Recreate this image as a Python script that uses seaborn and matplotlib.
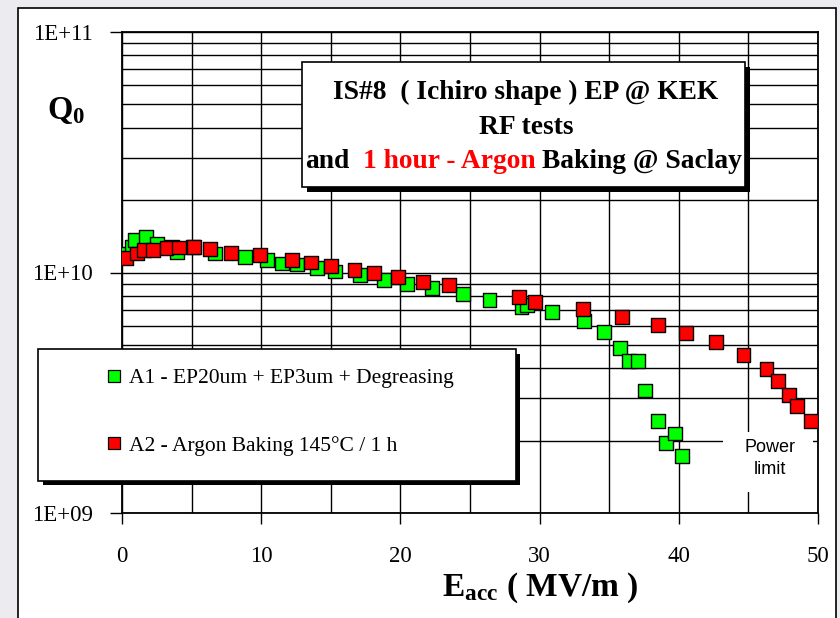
import numpy as np
import pandas as pd
import matplotlib
matplotlib.use('Agg')
import matplotlib.pyplot as plt
import seaborn as sns
from matplotlib.patches import Rectangle
from matplotlib.lines import Line2D
from matplotlib.ticker import LogLocator, MultipleLocator, FixedLocator, FixedFormatter, NullFormatter

# ---------------- data ----------------
eacc_a1 = [0.09, 0.70, 0.93, 1.70, 2.49, 3.57, 3.93, 5.12, 6.68, 8.84, 10.4, 11.5, 12.55,
           14.0, 15.3, 17.1, 18.8, 20.45, 22.25, 24.5, 26.4, 28.7, 29.1, 30.9, 33.2, 34.6,
           35.8, 36.4, 37.1, 37.6, 38.5, 39.1, 39.7, 40.25]
q0_a1 = [1.20e10, 1.28e10, 1.36e10, 1.41e10, 1.32e10, 1.28e10, 1.22e10, 1.28e10, 1.20e10,
         1.16e10, 1.13e10, 1.09e10, 1.08e10, 1.04e10, 1.01e10, 9.77e9, 9.31e9, 8.93e9,
         8.60e9, 8.15e9, 7.69e9, 7.21e9, 7.33e9, 6.84e9, 6.26e9, 5.64e9, 4.84e9, 4.29e9,
         4.29e9, 3.23e9, 2.42e9, 1.95e9, 2.14e9, 1.73e9]

eacc_a2 = [0.27, 1.06, 1.60, 2.25, 3.20, 4.09, 5.19, 6.32, 7.83, 9.91, 12.2, 13.6, 15.0,
           16.7, 18.1, 19.8, 21.6, 23.5, 28.5, 29.7, 33.1, 35.9, 38.5, 40.5, 42.7, 44.65,
           46.3, 47.1, 47.9, 48.5, 49.5]
q0_a2 = [1.15e10, 1.20e10, 1.24e10, 1.24e10, 1.26e10, 1.27e10, 1.28e10, 1.25e10, 1.21e10,
         1.18e10, 1.13e10, 1.10e10, 1.06e10, 1.02e10, 9.98e9, 9.60e9, 9.13e9, 8.87e9,
         7.93e9, 7.51e9, 7.03e9, 6.55e9, 6.05e9, 5.59e9, 5.13e9, 4.54e9, 3.97e9, 3.55e9,
         3.10e9, 2.79e9, 2.42e9]

series_labels = ['A1 - EP20um + EP3um + Degreasing', 'A2 - Argon Baking 145°C / 1 h']
series_colors = ['#00ff00', '#ff0000']
x_ticks = [0, 10, 20, 30, 40, 50]
y_ticks = [1e9, 1e10, 1e11]
y_tick_labels = ['1E+09', '1E+10', '1E+11']
title_line1 = 'IS#8  ( Ichiro shape ) EP @ KEK'
title_line2 = 'RF tests'
title_line3 = [('and', 'black'), ('1 hour - Argon', '#ff0000'), ('Baking @ Saclay', 'black')]

# ---------------- style ----------------
sns.set_style('white')
plt.rcParams['font.family'] = ['Liberation Serif', 'DejaVu Serif']
plt.rcParams['text.color'] = 'black'
plt.rcParams['axes.labelcolor'] = 'black'
plt.rcParams['xtick.color'] = 'black'
plt.rcParams['ytick.color'] = 'black'
plt.rcParams['mathtext.fontset'] = 'custom'
plt.rcParams['mathtext.rm'] = 'Liberation Serif'
plt.rcParams['mathtext.bf'] = 'Liberation Serif:bold'
plt.rcParams['mathtext.it'] = 'Liberation Serif:italic'

W, H = 840, 618
fig = plt.figure(figsize=(8.4, 6.18), dpi=100, facecolor='#ececf0')


def fx(px):
    return px / W


def fy(py):
    return 1 - py / H


def frect(x0, y0, x1, y1, **kw):
    r = Rectangle((fx(x0), fy(y1)), fx(x1) - fx(x0), fy(y0) - fy(y1),
                  transform=fig.transFigure, **kw)
    fig.patches.append(r)
    return r


# white panel with border
frect(18, 8, 836, 660, facecolor='white', edgecolor='black', linewidth=1.2, zorder=-5)

ax = fig.add_axes([fx(122), fy(513), fx(818) - fx(122), fy(32) - fy(513)])
ax.set_facecolor('white')

df = pd.DataFrame({
    'E': eacc_a1 + eacc_a2,
    'Q': q0_a1 + q0_a2,
    'series': [series_labels[0]] * len(eacc_a1) + [series_labels[1]] * len(eacc_a2),
})
sns.scatterplot(data=df, x='E', y='Q', hue='series',
                palette=dict(zip(series_labels, series_colors)),
                marker='s', s=100, edgecolor='black', linewidth=1.0,
                legend=False, ax=ax, zorder=3)

ax.set_yscale('log')
ax.set_xlim(0, 50)
ax.set_ylim(1e9, 1e11)
ax.set_xlabel('')
ax.set_ylabel('')

ax.xaxis.set_major_locator(FixedLocator(x_ticks))
ax.xaxis.set_minor_locator(MultipleLocator(5))
ax.yaxis.set_major_locator(FixedLocator(y_ticks))
ax.yaxis.set_major_formatter(FixedFormatter(y_tick_labels))
ax.yaxis.set_minor_locator(LogLocator(base=10, subs=np.arange(2, 10)))
ax.yaxis.set_minor_formatter(NullFormatter())

ax.grid(which='both', axis='both', color='black', linewidth=1.0)
ax.set_axisbelow(True)

ax.tick_params(axis='x', which='major', direction='out', length=8, width=1.0,
               color='black', labelsize=16.5, pad=16)
ax.tick_params(axis='y', which='major', direction='out', length=9, width=1.0,
               color='black', labelsize=16.5, pad=12)
ax.tick_params(which='minor', length=0)
ax.tick_params(axis='both', labelcolor='black')
ax.xaxis.set_ticks_position('bottom')
ax.yaxis.set_ticks_position('left')

for sp in ax.spines.values():
    sp.set_visible(True)
    sp.set_color('black')
    sp.set_linewidth(1.3)

# ---------------- axis labels ----------------
fig.text(fx(66), fy(110), r'$\mathbf{Q_0}$', fontsize=23.5, ha='center', va='center',
         color='black', zorder=6)
fig.text(fx(540), fy(588), r'E$_{\mathbf{acc}}$ ( MV/m )', fontsize=24, fontweight='bold',
         ha='center', va='center', color='black', zorder=6)

# ---------------- title box ----------------
frect(306.5, 66.5, 750, 191.5, facecolor='black', edgecolor='none', zorder=4)
frect(301.5, 61.5, 745, 186.5, facecolor='white', edgecolor='black', linewidth=1.2, zorder=5)
title_fs = 19.8
cx = 526
fig.text(fx(cx), fy(92), title_line1, fontsize=title_fs, fontweight='bold',
         ha='center', va='center', color='black', zorder=6)
fig.text(fx(cx), fy(128), title_line2, fontsize=title_fs, fontweight='bold',
         ha='center', va='center', color='black', zorder=6)

renderer = fig.canvas.get_renderer()
space_px = 0.25 * title_fs * 100 / 72
gaps = [0, 2 * space_px, space_px]
texts = []
widths = []
for s, c in title_line3:
    t = fig.text(0, fy(162), s, fontsize=title_fs, fontweight='bold', color=c,
                 ha='left', va='center', zorder=6)
    texts.append(t)
    widths.append(t.get_window_extent(renderer).width)
total = sum(widths) + sum(gaps)
xpos = 523.5 - total / 2
for t, w, g in zip(texts, widths, gaps):
    xpos += g
    t.set_x(fx(xpos))
    xpos += w

# ---------------- legend box ----------------
frect(42.5, 353.5, 520, 485, facecolor='black', edgecolor='none', zorder=4)
frect(38, 349, 515.5, 480.5, facecolor='white', edgecolor='black', linewidth=1.2, zorder=5)
handles = [Line2D([], [], marker='s', linestyle='', markerfacecolor=c,
                  markeredgecolor='black', markeredgewidth=0.9, markersize=8.5)
           for c in series_colors]
leg = fig.legend(handles, series_labels, loc='upper left',
                 bbox_to_anchor=(fx(105), fy(368)), frameon=False, fontsize=15.5,
                 handlelength=0.8, handletextpad=0.3, labelspacing=2.2,
                 borderpad=0, borderaxespad=0, labelcolor='black')
leg.set_zorder(6)

# ---------------- power limit ----------------
frect(723, 432, 813, 492, facecolor='white', edgecolor='none', zorder=4)
fig.text(fx(770), fy(447), 'Power', fontsize=13, family='Liberation Sans',
         ha='center', va='center', color='black', zorder=6)
fig.text(fx(770), fy(470), 'limit', fontsize=13, family='Liberation Sans',
         ha='center', va='center', color='black', zorder=6)

fig.savefig('out.png', dpi=100, facecolor=fig.get_facecolor())
